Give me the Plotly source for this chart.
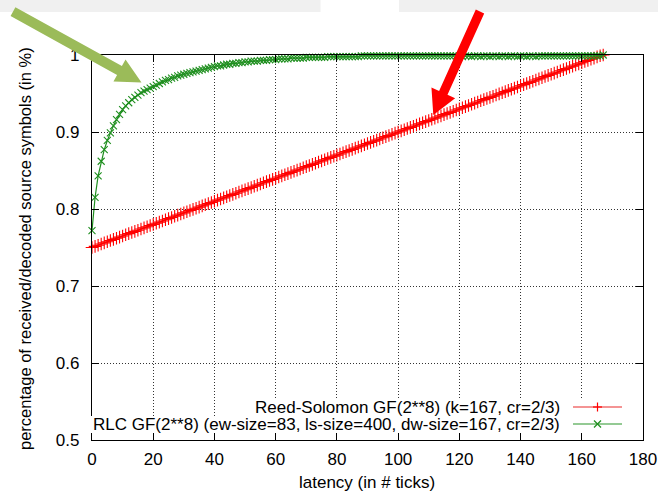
import plotly.graph_objects as go

# ---------------- data ----------------
latency = list(range(0, 168))

rs_values = [
    0.7500, 0.7515, 0.7530, 0.7545, 0.7560, 0.7575, 0.7590, 0.7605, 0.7620, 0.7635,
    0.7650, 0.7665, 0.7680, 0.7695, 0.7710, 0.7725, 0.7740, 0.7755, 0.7770, 0.7785,
    0.7800, 0.7815, 0.7830, 0.7845, 0.7860, 0.7875, 0.7890, 0.7905, 0.7920, 0.7935,
    0.7950, 0.7965, 0.7980, 0.7995, 0.8010, 0.8025, 0.8040, 0.8055, 0.8070, 0.8085,
    0.8100, 0.8115, 0.8130, 0.8145, 0.8160, 0.8175, 0.8190, 0.8205, 0.8220, 0.8235,
    0.8250, 0.8265, 0.8280, 0.8295, 0.8310, 0.8325, 0.8340, 0.8355, 0.8370, 0.8385,
    0.8400, 0.8415, 0.8430, 0.8445, 0.8460, 0.8475, 0.8490, 0.8505, 0.8520, 0.8535,
    0.8550, 0.8565, 0.8580, 0.8595, 0.8610, 0.8625, 0.8640, 0.8655, 0.8670, 0.8685,
    0.8700, 0.8715, 0.8730, 0.8745, 0.8760, 0.8775, 0.8790, 0.8805, 0.8820, 0.8835,
    0.8850, 0.8865, 0.8880, 0.8895, 0.8910, 0.8925, 0.8940, 0.8955, 0.8970, 0.8985,
    0.9000, 0.9015, 0.9030, 0.9045, 0.9060, 0.9075, 0.9090, 0.9105, 0.9120, 0.9135,
    0.9150, 0.9165, 0.9180, 0.9195, 0.9210, 0.9225, 0.9240, 0.9255, 0.9270, 0.9285,
    0.9300, 0.9315, 0.9330, 0.9345, 0.9360, 0.9375, 0.9390, 0.9405, 0.9420, 0.9435,
    0.9450, 0.9465, 0.9480, 0.9495, 0.9510, 0.9525, 0.9540, 0.9555, 0.9570, 0.9585,
    0.9600, 0.9615, 0.9630, 0.9645, 0.9660, 0.9675, 0.9690, 0.9705, 0.9720, 0.9735,
    0.9750, 0.9765, 0.9780, 0.9795, 0.9810, 0.9825, 0.9840, 0.9855, 0.9870, 0.9885,
    0.9900, 0.9915, 0.9930, 0.9945, 0.9960, 0.9975, 0.9990, 1.0000,
]

rlc_values = [
    0.772, 0.815, 0.843, 0.862, 0.877, 0.889, 0.899, 0.908, 0.916, 0.923,
    0.929, 0.934, 0.938, 0.942, 0.945, 0.948, 0.951, 0.953, 0.955, 0.957,
    0.959, 0.961, 0.963, 0.965, 0.967, 0.968, 0.970, 0.971, 0.973, 0.974,
    0.975, 0.976, 0.977, 0.978, 0.979, 0.980, 0.981, 0.982, 0.983, 0.984,
    0.985, 0.986, 0.986, 0.987, 0.988, 0.988, 0.989, 0.989, 0.990, 0.990,
    0.991, 0.991, 0.992, 0.992, 0.992, 0.993, 0.993, 0.993, 0.994, 0.994,
    0.994, 0.995, 0.995, 0.995, 0.995, 0.996, 0.996, 0.996, 0.996, 0.996,
    0.997, 0.997, 0.997, 0.997, 0.997, 0.997, 0.997, 0.998, 0.998, 0.998,
    0.998, 0.998, 0.998, 0.998, 0.998, 0.998, 0.998, 0.998, 0.999, 0.999,
    0.999, 0.999, 0.999, 0.999, 0.999, 0.999, 0.999, 0.999, 0.999, 0.999,
    0.999, 0.999, 0.999, 0.999, 0.999, 0.999, 0.999, 0.999, 0.999, 0.999,
    0.999, 0.999, 0.999, 0.999, 0.999, 0.999, 0.999, 0.999, 0.999, 0.999,
    0.999, 0.998, 0.999, 0.999, 0.998, 0.999, 0.999, 0.998, 0.999, 0.999,
    0.998, 0.999, 0.999, 0.998, 0.999, 0.999, 0.998, 0.999, 0.999, 0.998,
    0.999, 0.999, 0.998, 0.999, 0.999, 0.998, 0.999, 0.999, 0.999, 0.999,
    0.999, 0.999, 0.999, 0.999, 0.999, 0.999, 0.999, 0.999, 0.999, 0.999,
    0.999, 0.999, 0.999, 0.999, 0.999, 0.999, 0.999, 1.000,
]

rs_name = "Reed-Solomon GF(2**8) (k=167, cr=2/3)"
rlc_name = "RLC GF(2**8) (ew-size=83, ls-size=400, dw-size=167, cr=2/3)"
x_title = "latency (in # ticks)"
y_title = "percentage of received/decoded source symbols (in %)"

# ---------------- layout geometry ----------------
W, H = 658, 492
ML, MR, MT, MB = 92, 15, 55, 52
PW, PH = W - ML - MR, H - MT - MB
FONT = "Liberation Sans, Arial, Helvetica, sans-serif"
RED = "#ff0000"
GREEN = "#1f8f1f"


def px(xp):
    return (xp - ML) / PW


def py(yp):
    return (H - MB - yp) / PH


fig = go.Figure()
fig.add_trace(go.Scatter(
    x=latency, y=rs_values, mode="lines+markers", name=rs_name,
    line=dict(color=RED, width=1.5),
    marker=dict(symbol="cross-thin", size=9, line=dict(color=RED, width=1.1)),
    showlegend=False, cliponaxis=False,
))
fig.add_trace(go.Scatter(
    x=latency, y=rlc_values, mode="lines+markers", name=rlc_name,
    line=dict(color=GREEN, width=1.2),
    marker=dict(symbol="x-thin", size=7, line=dict(color=GREEN, width=1.1)),
    showlegend=False, cliponaxis=False,
))

shapes = []
# light grey strips at the top of the image
shapes.append(dict(type="rect", xref="paper", yref="paper", x0=px(0), x1=px(320.5),
                   y0=py(12), y1=py(0), fillcolor="#f0f0f0", line=dict(width=0), layer="below"))
shapes.append(dict(type="rect", xref="paper", yref="paper", x0=px(399), x1=px(658),
                   y0=py(12), y1=py(0), fillcolor="#f0f0f0", line=dict(width=0), layer="below"))


def arrow_path(tail, base, tip, hw_shaft, hw_head):
    dx, dy = tip[0] - tail[0], tip[1] - tail[1]
    L = (dx * dx + dy * dy) ** 0.5
    ux, uy = dx / L, dy / L
    nx, ny = -uy, ux
    pts = [
        (tail[0] + nx * hw_shaft, tail[1] + ny * hw_shaft),
        (base[0] + nx * hw_shaft, base[1] + ny * hw_shaft),
        (base[0] + nx * hw_head, base[1] + ny * hw_head),
        tip,
        (base[0] - nx * hw_head, base[1] - ny * hw_head),
        (base[0] - nx * hw_shaft, base[1] - ny * hw_shaft),
        (tail[0] - nx * hw_shaft, tail[1] - ny * hw_shaft),
    ]
    d = "M " + " L ".join(f"{px(a):.5f},{py(b):.5f}" for a, b in pts) + " Z"
    return d


shapes.append(dict(type="path", xref="paper", yref="paper",
                   path=arrow_path((13, 11.7), (119.5, 70.5), (141.5, 82.6), 5, 12.5),
                   fillcolor="#9bbb59", line=dict(width=0), layer="above"))
shapes.append(dict(type="path", xref="paper", yref="paper",
                   path=arrow_path((480, 11.5), (443.3, 92.8), (433.3, 115), 4.6, 13),
                   fillcolor=RED, line=dict(width=0), layer="above"))

# opaque key background
shapes.append(dict(type="rect", xref="paper", yref="paper", x0=px(250), x1=px(630),
                   y0=py(416), y1=py(398), fillcolor="white", line=dict(width=0), layer="above"))
shapes.append(dict(type="rect", xref="paper", yref="paper", x0=px(86), x1=px(630),
                   y0=py(433), y1=py(416), fillcolor="white", line=dict(width=0), layer="above"))
# key samples
for yy, col in ((407, "#f07070"), (424, "#70b870")):
    shapes.append(dict(type="line", xref="paper", yref="paper", x0=px(573), x1=px(622),
                       y0=py(yy), y1=py(yy), line=dict(color=col, width=1.5), layer="above"))
cx = 597.5
shapes.append(dict(type="line", xref="paper", yref="paper", x0=px(cx - 4.5), x1=px(cx + 4.5),
                   y0=py(407), y1=py(407), line=dict(color=RED, width=1.2), layer="above"))
shapes.append(dict(type="line", xref="paper", yref="paper", x0=px(cx), x1=px(cx),
                   y0=py(402.5), y1=py(411.5), line=dict(color=RED, width=1.2), layer="above"))
shapes.append(dict(type="line", xref="paper", yref="paper", x0=px(cx - 3.5), x1=px(cx + 3.5),
                   y0=py(420.5), y1=py(427.5), line=dict(color=GREEN, width=1.2), layer="above"))
shapes.append(dict(type="line", xref="paper", yref="paper", x0=px(cx - 3.5), x1=px(cx + 3.5),
                   y0=py(427.5), y1=py(420.5), line=dict(color=GREEN, width=1.2), layer="above"))

annotations = [
    dict(text=rs_name, xref="paper", yref="paper", x=px(562), y=py(407), xanchor="right",
         yanchor="middle", showarrow=False, font=dict(family=FONT, size=17, color="black")),
    dict(text=rlc_name, xref="paper", yref="paper", x=px(562), y=py(424), xanchor="right",
         yanchor="middle", showarrow=False, font=dict(family=FONT, size=17, color="black")),
    dict(text=y_title, xref="paper", yref="paper", x=px(25), y=py(249), xanchor="center",
         yanchor="middle", textangle=-90, showarrow=False,
         font=dict(family=FONT, size=16.5, color="black")),
    dict(text=x_title, xref="paper", yref="paper", x=px(367), y=py(482), xanchor="center",
         yanchor="middle", showarrow=False, font=dict(family=FONT, size=17, color="black")),
]

axis_common = dict(
    showline=True, linecolor="black", linewidth=1.3, mirror="ticks",
    ticks="inside", ticklen=7, tickcolor="black", tickwidth=1,
    showgrid=True, gridcolor="#333333", gridwidth=1, griddash="1px,2px",
    zeroline=False, automargin=False,
    tickfont=dict(family=FONT, size=17, color="black"),
)

fig.update_layout(
    width=W, height=H,
    margin=dict(l=ML, r=MR, t=MT, b=MB),
    paper_bgcolor="white", plot_bgcolor="white",
    showlegend=False,
    xaxis=dict(range=[0, 180], dtick=20, tick0=0, ticklabelstandoff=3, **axis_common),
    yaxis=dict(range=[0.5, 1.0], dtick=0.1, tick0=0.5, ticklabelstandoff=8, **axis_common),
    shapes=shapes,
    annotations=annotations,
)

fig.write_html(
    "out.html",
    config={"displayModeBar": False},
    post_script="document.body.style.margin='0';document.body.style.overflow='hidden';",
)
